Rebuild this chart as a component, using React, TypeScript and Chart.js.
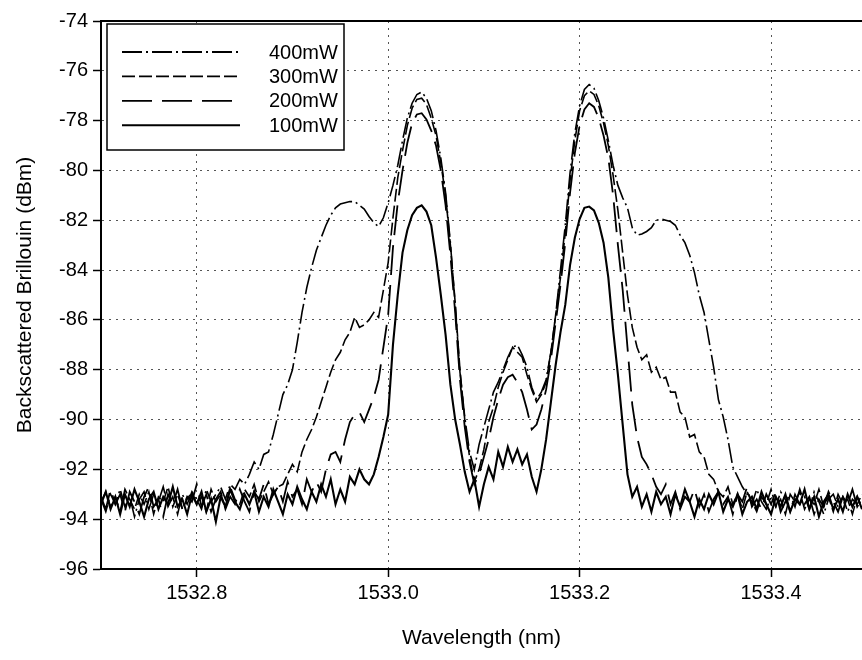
import { useEffect, useRef } from 'react';
import { Chart, registerables } from 'chart.js';

Chart.register(...registerables);

const FONT = '"Liberation Sans", Arial, Helvetica, sans-serif';

// Wavelength samples (nm)
const wavelengths = [
  1532.700, 1532.705, 1532.710, 1532.715, 1532.720, 1532.725, 1532.730, 1532.735, 1532.740, 1532.745,
  1532.750, 1532.755, 1532.760, 1532.765, 1532.770, 1532.775, 1532.780, 1532.785, 1532.790, 1532.795,
  1532.800, 1532.805, 1532.810, 1532.815, 1532.820, 1532.825, 1532.830, 1532.835, 1532.840, 1532.845,
  1532.850, 1532.855, 1532.860, 1532.865, 1532.870, 1532.875, 1532.880, 1532.885, 1532.890, 1532.895,
  1532.900, 1532.905, 1532.910, 1532.915, 1532.920, 1532.925, 1532.930, 1532.935, 1532.940, 1532.945,
  1532.950, 1532.955, 1532.960, 1532.965, 1532.970, 1532.975, 1532.980, 1532.985, 1532.990, 1532.995,
  1533.000, 1533.005, 1533.010, 1533.015, 1533.020, 1533.025, 1533.030, 1533.035, 1533.040, 1533.045,
  1533.050, 1533.055, 1533.060, 1533.065, 1533.070, 1533.075, 1533.080, 1533.085, 1533.090, 1533.095,
  1533.100, 1533.105, 1533.110, 1533.115, 1533.120, 1533.125, 1533.130, 1533.135, 1533.140, 1533.145,
  1533.150, 1533.155, 1533.160, 1533.165, 1533.170, 1533.175, 1533.180, 1533.185, 1533.190, 1533.195,
  1533.200, 1533.205, 1533.210, 1533.215, 1533.220, 1533.225, 1533.230, 1533.235, 1533.240, 1533.245,
  1533.250, 1533.255, 1533.260, 1533.265, 1533.270, 1533.275, 1533.280, 1533.285, 1533.290, 1533.295,
  1533.300, 1533.305, 1533.310, 1533.315, 1533.320, 1533.325, 1533.330, 1533.335, 1533.340, 1533.345,
  1533.350, 1533.355, 1533.360, 1533.365, 1533.370, 1533.375, 1533.380, 1533.385, 1533.390, 1533.395,
  1533.400, 1533.405, 1533.410, 1533.415, 1533.420, 1533.425, 1533.430, 1533.435, 1533.440, 1533.445,
  1533.450, 1533.455, 1533.460, 1533.465, 1533.470, 1533.475, 1533.480, 1533.485, 1533.490, 1533.495,
];

// Backscattered Brillouin power (dBm) per pump power
const power400mW = [
  -93.2, -93.7, -93.0, -93.4, -92.8, -93.5, -93.1, -93.9, -93.2, -92.9,
  -93.6, -93.0, -93.3, -92.7, -93.5, -93.1, -93.8, -93.0, -93.4, -92.9,
  -93.2, -93.6, -92.8, -93.3, -93.0, -92.7, -93.2, -92.6, -92.8, -92.4,
  -92.6, -92.2, -91.7, -92.0, -91.4, -91.3, -90.6, -89.8, -89.0, -88.6,
  -88.0, -86.9, -85.7, -84.7, -83.9, -83.2, -82.7, -82.2, -81.8, -81.5,
  -81.35, -81.3, -81.25, -81.25, -81.4, -81.55, -81.85, -82.1, -82.25, -81.9,
  -81.3, -80.6, -79.8, -78.8, -77.9, -77.3, -76.95, -76.85, -77.1, -77.6,
  -78.4, -79.5, -80.9, -82.9, -85.4, -88.1, -89.9, -91.3, -92.0, -91.0,
  -90.3, -89.6, -88.9, -88.5, -88.0, -87.5, -87.1, -87.0, -87.4, -87.9,
  -88.7, -89.2, -88.9, -88.4, -87.3, -85.8, -84.0, -82.2, -80.1, -78.5,
  -77.4, -76.75, -76.55, -76.7, -77.2, -77.9, -78.8, -79.8, -80.6, -81.1,
  -81.5, -82.3, -82.6, -82.55, -82.45, -82.3, -82.0, -81.95, -82.0, -82.05,
  -82.2, -82.6, -82.9, -83.4, -84.1, -85.0, -85.7, -86.8, -87.9, -89.2,
  -89.9, -90.8, -91.9, -92.3, -92.7, -93.0, -93.4, -92.8, -93.3, -93.6,
  -93.1, -93.5, -92.9, -93.2, -93.7, -93.0, -93.4, -93.1, -93.6, -92.9,
  -93.3, -93.8, -93.2, -93.0, -93.5, -93.1, -93.7, -93.2, -93.4, -93.0,
];

const power300mW = [
  -93.3, -92.9, -93.5, -93.1, -93.7, -92.8, -93.2, -93.6, -93.0, -93.4,
  -92.9, -93.8, -93.1, -93.3, -92.7, -93.5, -93.0, -93.6, -93.2, -92.9,
  -93.4, -93.1, -93.7, -92.8, -93.3, -93.0, -93.5, -92.7, -93.2, -93.4,
  -92.8, -93.1, -92.6, -93.3, -92.9, -92.5, -93.0, -92.7, -92.6, -92.2,
  -91.8, -92.1, -91.3, -90.8, -90.4, -89.9, -89.3, -88.7, -88.1, -87.6,
  -87.3, -86.8, -86.5, -85.9, -86.3, -86.2, -86.0, -85.7, -85.9, -84.8,
  -83.7, -81.9, -80.3, -79.2, -78.2, -77.5, -77.15, -77.1, -77.35, -77.9,
  -78.6, -79.7, -81.0, -83.0, -85.3, -88.0, -90.0, -91.5, -92.5, -92.0,
  -91.2, -90.1, -89.5, -88.7, -88.1, -87.6, -87.1, -87.3, -87.5, -88.2,
  -88.8, -89.3, -89.0, -88.5, -87.3, -85.8, -84.3, -82.5, -80.4, -78.8,
  -77.6, -77.0, -76.8, -76.95, -77.4, -78.1, -79.0, -80.2, -81.6, -83.3,
  -85.0, -86.3, -87.1, -87.6, -87.4, -88.1, -87.9, -88.4, -88.3, -88.9,
  -88.9, -89.7, -89.9, -90.7, -90.6, -91.3, -91.5, -92.2, -92.4, -92.9,
  -93.1, -92.7, -93.4, -93.0, -93.6, -92.9, -93.3, -93.7, -93.1, -93.4,
  -92.8, -93.5, -93.2, -93.8, -93.0, -93.3, -92.9, -93.6, -93.2, -93.4,
  -92.8, -93.5, -93.1, -93.7, -93.0, -93.4, -93.2, -93.8, -93.1, -93.5,
];

const power200mW = [
  -93.1, -93.6, -92.8, -93.4, -93.0, -93.7, -92.9, -93.3, -93.8, -93.1,
  -92.7, -93.5, -93.2, -93.9, -93.0, -93.4, -92.8, -93.6, -93.1, -93.3,
  -92.6, -93.5, -93.0, -93.7, -93.2, -92.9, -93.6, -93.1, -93.4, -92.8,
  -93.3, -93.7, -92.9, -93.2, -92.6, -93.4, -93.0, -92.7, -93.3, -92.5,
  -93.1, -92.8, -93.4, -92.4, -92.9, -92.5, -92.9, -92.0, -91.4, -91.3,
  -91.7, -90.8, -90.1, -89.8, -89.7, -90.1, -89.6, -89.1, -88.4, -87.1,
  -85.8, -83.1, -81.3, -80.0, -78.9, -78.1, -77.75, -77.7, -77.95, -78.4,
  -79.0, -80.0, -81.4, -83.4, -85.7, -88.4, -90.3, -91.7, -92.6, -92.2,
  -91.5, -90.8, -89.9, -89.2, -88.6, -88.3, -88.2, -88.5, -88.9, -89.6,
  -90.4, -90.2, -89.6, -88.8, -87.6, -86.1, -84.6, -82.9, -80.9, -79.3,
  -78.2, -77.55, -77.3, -77.45, -77.9, -78.6, -79.5, -81.0, -83.0, -84.8,
  -87.1, -89.4, -90.7, -91.5, -91.8, -92.2, -92.7, -93.0, -92.6, -93.4,
  -92.9, -93.6, -93.1, -93.3, -92.8, -93.5, -93.0, -93.7, -93.2, -92.9,
  -93.4, -93.1, -93.8, -93.0, -93.3, -92.7, -93.5, -93.2, -93.6, -93.0,
  -93.4, -92.9, -93.7, -93.3, -93.0, -93.5, -92.8, -93.4, -93.1, -93.8,
  -93.2, -93.5, -92.9, -93.3, -93.7, -93.1, -93.4, -92.8, -93.5, -93.2,
];

const power100mW = [
  -93.4, -92.9, -93.6, -93.1, -93.8, -93.0, -93.5, -92.8, -93.3, -93.9,
  -93.2, -92.9, -93.6, -93.1, -93.4, -92.7, -93.5, -93.2, -93.8, -93.0,
  -93.4, -92.9, -93.7, -93.2, -94.1, -93.1, -93.5, -92.8, -93.3, -93.6,
  -93.0, -93.4, -92.9, -93.7, -93.1, -93.5, -92.8, -93.3, -93.8, -93.0,
  -93.4, -92.7, -93.2, -93.6, -92.9, -93.3, -92.6, -93.1, -92.4, -93.4,
  -92.8, -93.3, -92.3, -92.6, -92.0, -92.4, -92.6, -92.2, -91.5, -90.7,
  -89.8, -87.0, -85.0, -83.3, -82.4, -81.8, -81.5, -81.4, -81.65, -82.2,
  -83.5, -85.0, -86.6, -88.6, -90.0, -91.0, -92.1, -92.9, -92.4, -93.5,
  -92.6, -91.9, -92.4, -91.3, -91.9, -91.1, -91.7, -91.2, -91.8, -91.4,
  -92.3, -92.9, -92.0, -90.8, -89.3, -87.8, -86.5, -85.4, -83.8, -82.7,
  -81.95, -81.5, -81.45, -81.6, -82.1, -82.9, -84.3, -86.4, -88.2, -90.2,
  -92.2, -93.1, -92.7, -93.5, -93.0, -93.7, -92.9, -93.4, -93.1, -93.8,
  -93.0, -93.5, -92.8, -93.3, -93.9, -93.2, -93.6, -93.0, -93.4, -92.9,
  -93.7, -93.2, -93.5, -93.0, -93.8, -93.3, -93.1, -93.6, -92.9, -93.4,
  -93.8, -93.1, -93.5, -93.0, -93.7, -93.2, -93.4, -92.8, -93.6, -93.1,
  -93.9, -93.3, -93.0, -93.6, -93.2, -93.7, -93.0, -93.5, -93.1, -93.6,
];

const seriesLabels = ['400mW', '300mW', '200mW', '100mW'];
const xTickValues = [1532.8, 1533.0, 1533.2, 1533.4];
const yTickValues = [-96, -94, -92, -90, -88, -86, -84, -82, -80, -78, -76, -74];
const xMin = 1532.7;
const xMax = 1533.495;
const yMin = -96;
const yMax = -74;

const framedLegend = {
  id: 'framedLegend',
  afterDraw(chart: any) {
    const { ctx, chartArea } = chart;
    ctx.save();
    // top frame line
    ctx.strokeStyle = '#000';
    ctx.lineWidth = 2;
    ctx.setLineDash([]);
    ctx.beginPath();
    ctx.moveTo(chartArea.left, chartArea.top);
    ctx.lineTo(chartArea.right, chartArea.top);
    ctx.stroke();

    // legend box
    const bx = chartArea.left + 6;
    const by = chartArea.top + 3;
    const bw = 237;
    const bh = 126;
    ctx.fillStyle = '#fff';
    ctx.fillRect(bx, by, bw, bh);
    ctx.lineWidth = 1.5;
    ctx.strokeRect(bx, by, bw, bh);

    ctx.font = `20px ${FONT}`;
    ctx.textBaseline = 'middle';
    ctx.textAlign = 'left';
    chart.data.datasets.forEach((ds: any, i: number) => {
      const y = by + 28 + i * 24.4;
      ctx.strokeStyle = ds.borderColor;
      ctx.lineWidth = Math.max(ds.borderWidth, 1.8);
      ctx.setLineDash(ds.borderDash || []);
      ctx.beginPath();
      ctx.moveTo(bx + 15, y);
      ctx.lineTo(bx + 133, y);
      ctx.stroke();
      ctx.setLineDash([]);
      ctx.fillStyle = '#000';
      ctx.fillText(ds.label, bx + 162, y + 1);
    });
    ctx.restore();
  },
};

export default function App() {
  const ref = useRef<HTMLCanvasElement>(null);

  useEffect(() => {
    document.body.style.margin = '0';
    document.body.style.overflow = 'hidden';
    const toPoints = (ys: number[]) => wavelengths.map((x, i) => ({ x, y: ys[i] }));
    const seriesValues = [power400mW, power300mW, power200mW, power100mW];
    const dashes = [[20, 4, 2, 4], [13, 4], [30, 10], []];
    const widths = [1.6, 1.6, 1.8, 2.1];

    const chart = new Chart(ref.current as HTMLCanvasElement, {
      type: 'line',
      data: {
        datasets: seriesLabels.map((label, k) => ({
          label,
          data: toPoints(seriesValues[k]),
          borderColor: '#000',
          backgroundColor: '#000',
          borderWidth: widths[k],
          borderDash: dashes[k],
          pointRadius: 0,
          fill: false,
          tension: 0,
        })),
      },
      options: {
        animation: false,
        responsive: false,
        layout: { padding: { top: 21, right: 0, bottom: 0, left: 0 } },
        plugins: {
          legend: { display: false },
          tooltip: { enabled: false },
        },
        scales: {
          x: {
            type: 'linear',
            min: xMin,
            max: xMax,
            afterBuildTicks: (s: any) => {
              s.ticks = xTickValues.map((v) => ({ value: v }));
            },
            afterFit: (s: any) => {
              s.height = 91;
            },
            ticks: {
              font: { family: FONT, size: 20 },
              color: '#000',
              padding: 4,
              maxRotation: 0,
              autoSkip: false,
              callback: (v: any) => Number(v).toFixed(1),
            },
            grid: {
              color: '#555',
              lineWidth: 1,
              tickLength: 8,
              tickColor: '#000',
              tickWidth: 1.5,
            },
            border: { display: true, color: '#000', width: 2, dash: [2, 5] },
            title: {
              display: true,
              text: 'Wavelength (nm)',
              font: { family: FONT, size: 21 },
              color: '#000',
              padding: { top: 0, bottom: 9 },
            },
          },
          y: {
            type: 'linear',
            min: yMin,
            max: yMax,
            afterBuildTicks: (s: any) => {
              s.ticks = yTickValues.map((v) => ({ value: v }));
            },
            afterFit: (s: any) => {
              s.width = 101;
            },
            ticks: {
              font: { family: FONT, size: 20 },
              color: '#000',
              padding: 5,
              autoSkip: false,
            },
            grid: {
              color: '#555',
              lineWidth: 1,
              tickLength: 8,
              tickColor: '#000',
              tickWidth: 1.5,
            },
            border: { display: true, color: '#000', width: 2, dash: [2, 5] },
            title: {
              display: true,
              text: 'Backscattered Brillouin (dBm)',
              font: { family: FONT, size: 21 },
              color: '#000',
              padding: { top: 13, bottom: 0 },
            },
          },
        },
      },
      plugins: [framedLegend],
    });
    return () => chart.destroy();
  }, []);

  return (
    <canvas
      ref={ref}
      width={862}
      height={660}
      style={{ display: 'block', width: 862, height: 660 }}
    />
  );
}
